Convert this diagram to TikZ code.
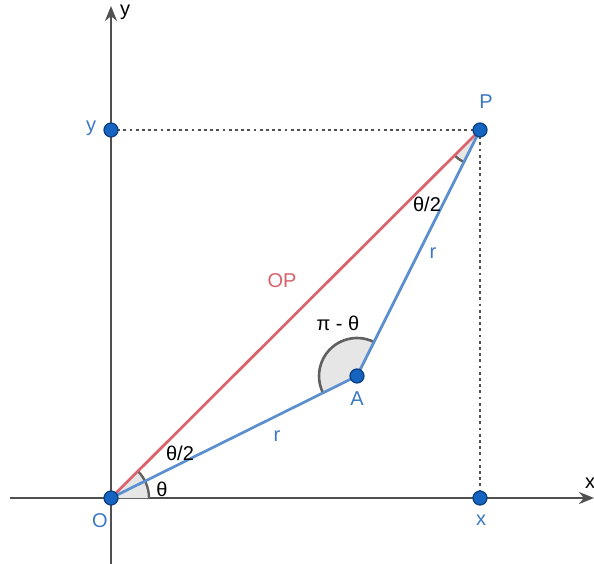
\documentclass[tikz,border=0pt]{standalone}
\usepackage{fontspec}
\setmainfont{Liberation Sans}
\usetikzlibrary{arrows.meta}
\definecolor{axisgray}{HTML}{505050}
\definecolor{segblue}{HTML}{5B8FCF}
\definecolor{segred}{HTML}{D9626B}
\definecolor{ptfill}{HTML}{1565C0}
\definecolor{ptline}{HTML}{0B3D80}
\definecolor{lblblue}{HTML}{3C78C3}
\definecolor{anglefill}{HTML}{E6E6E6}
\definecolor{anglegray}{HTML}{606060}
\tikzset{
  axis/.style={draw=axisgray, line width=2.8pt, -{Stealth[length=15pt,width=12pt]}},
  pt/.style={circle, fill=ptfill, draw=ptline, line width=1.2pt, minimum size=14pt, inner sep=0pt},
  lbl/.style={text=lblblue, font=\fontsize{20}{24}\selectfont, inner sep=0pt},
  blk/.style={text=black, font=\fontsize{20}{24}\selectfont, inner sep=0pt},
  redlbl/.style={text=segred, font=\fontsize{20}{24}\selectfont, inner sep=0pt},
  seg/.style={draw=segblue, line width=2.7pt},
  segr/.style={draw=segred, line width=2.7pt},
  dots/.style={draw=axisgray, line width=2.8pt, dash pattern=on 2.8pt off 3.4pt},
}
\begin{document}
\begin{tikzpicture}[x=1pt,y=-1pt]
\useasboundingbox (0,0) rectangle (594,564);
\coordinate (O) at (111,498);
\coordinate (A) at (357,376);
\coordinate (P) at (480,130);
\coordinate (Y) at (111,130);
\coordinate (X) at (480,498);
\coordinate (xs) at (10,498);
\coordinate (xe) at (594,498);
\coordinate (ys) at (111,564);
\coordinate (ye) at (111,6);
% axes
\draw[axis] (xs) -- (xe);
\draw[axis] (ys) -- (ye);
% angle sectors
\fill[anglefill] (O) -- ++(0:38pt) arc[start angle=0, end angle=44.9, radius=38pt] -- cycle;
\draw[anglegray, line width=2.4pt] (O) ++(0:38pt) arc[start angle=0, end angle=44.9, radius=38pt];
\fill[anglefill] (A) -- ++(63.4:38pt) arc[start angle=63.4, end angle=206.4, radius=38pt] -- cycle;
\draw[anglegray, line width=2.6pt] (A) ++(63.4:38pt) arc[start angle=63.4, end angle=206.4, radius=38pt];
\fill[anglefill] (P) -- ++(224.9:36pt) arc[start angle=224.9, end angle=243.4, radius=36pt] -- cycle;
\draw[anglegray, line width=2.4pt] (P) ++(224.9:36pt) arc[start angle=224.9, end angle=243.4, radius=36pt];
% dotted
\draw[dots] (Y) -- (P);
\draw[dots] (P) -- (X);
% segments
\draw[segr] (O) -- (P);
\draw[seg] (O) -- (A);
\draw[seg] (A) -- (P);
% points
\node[pt] (o) at (O) {};
\node[pt] (a) at (A) {};
\node[pt] (p) at (P) {};
\node[pt] (yp) at (Y) {};
\node[pt] (xp) at (X) {};
% labels
\node[blk] (ylab) at (125,12) {y};
\node[blk, anchor=west] (xlab) at (585,483) {x};
\node[lbl] (plab) at (486,102) {P};
\node[lbl] (yptlab) at (91,128) {y};
\node[lbl] (olab) at (100,521) {O};
\node[lbl] (alab) at (357,399) {A};
\node[lbl] (xptlab) at (481,520) {x};
\node[lbl] (r1) at (433,253) {r};
\node[lbl] (r2) at (277,436) {r};
\node[redlbl] (oplab) at (282,281) {OP};
\node[blk] (pitheta) at (338,323) {π - θ};
\node[blk] (th2a) at (427,204) {θ/2};
\node[blk] (th2b) at (180,453) {θ/2};
\node[blk] (th) at (162,489) {θ};
\end{tikzpicture}
\end{document}
